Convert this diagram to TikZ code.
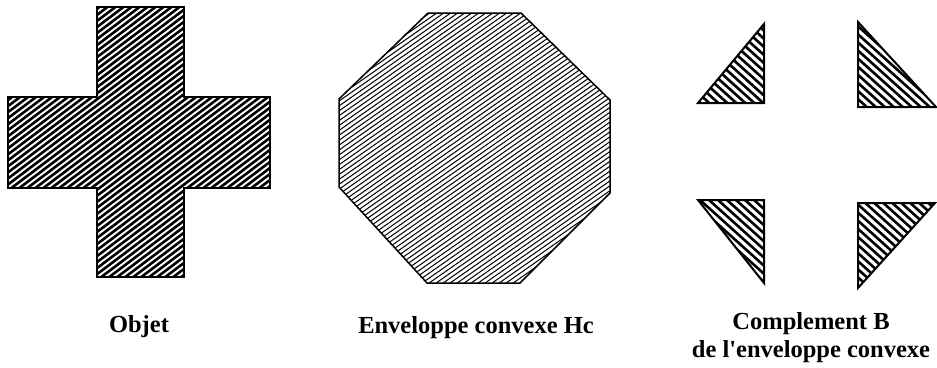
\documentclass[tikz,border=0pt]{standalone}
\usepackage{fontspec}
\setmainfont{Liberation Serif}
\begin{document}
\begin{tikzpicture}[x=1pt,y=-1pt,
  outline/.style={draw=black,line width=2pt,line join=miter},
  thinoutline/.style={draw=black,line width=1.5pt},
  crosshatch/.style={line width=2.6pt},
  octhatch/.style={line width=1pt},
  trihatch/.style={line width=2.6pt},
  lbl/.style={font=\fontsize{24.5}{28}\selectfont\bfseries,anchor=base,inner sep=0pt}]
\useasboundingbox (0,0) rectangle (937,367);
% cross (object)
\begin{scope}
  \clip (97,7) -- (184,7) -- (184,97) -- (270,97) -- (270,188) -- (184,188) -- (184,277) -- (97,277) -- (97,188) -- (8,188) -- (8,97) -- (97,97) -- cycle;
  \foreach \i in {-420,-412,...,280} \draw[crosshatch] (\i,290) -- ++(-37:600);
\end{scope}
\draw[outline] (97,7) -- (184,7) -- (184,97) -- (270,97) -- (270,188) -- (184,188) -- (184,277) -- (97,277) -- (97,188) -- (8,188) -- (8,97) -- (97,97) -- cycle;
% octagon (convex hull)
\begin{scope}
  \clip (428,13) -- (521,13) -- (610,100) -- (610,193) -- (520,283) -- (427,283) -- (339,187) -- (339,99) -- cycle;
  \foreach \i in {-120,-113,...,620} \draw[octhatch] (\i,295) -- ++(-35:600);
\end{scope}
\draw[thinoutline] (428,13) -- (521,13) -- (610,100) -- (610,193) -- (520,283) -- (427,283) -- (339,187) -- (339,99) -- cycle;
% complement triangles
\begin{scope}
  \clip (698,103) -- (764,24) -- (764,103) -- cycle
        (858,22) -- (858,107) -- (936,107) -- cycle
        (698,200) -- (764,200) -- (764,283) -- cycle
        (858,203) -- (935,203) -- (858,288) -- cycle;
  \foreach \i in {300,309,...,940} \draw[trihatch] (\i,10) -- ++(42:500);
\end{scope}
\draw[outline] (698,103) -- (764,24) -- (764,103) -- cycle;
\draw[outline] (858,22) -- (858,107) -- (936,107) -- cycle;
\draw[outline] (698,200) -- (764,200) -- (764,283) -- cycle;
\draw[outline] (858,203) -- (935,203) -- (858,288) -- cycle;
% labels
\node[lbl] (objet) at (139,332) {Objet};
\node[lbl] (hc) at (476,333) {Enveloppe convexe Hc};
\node[lbl] (cb1) at (811,329) {Complement B};
\node[lbl] (cb2) at (811,357) {de l\textquotesingle enveloppe convexe};
\end{tikzpicture}
\end{document}
